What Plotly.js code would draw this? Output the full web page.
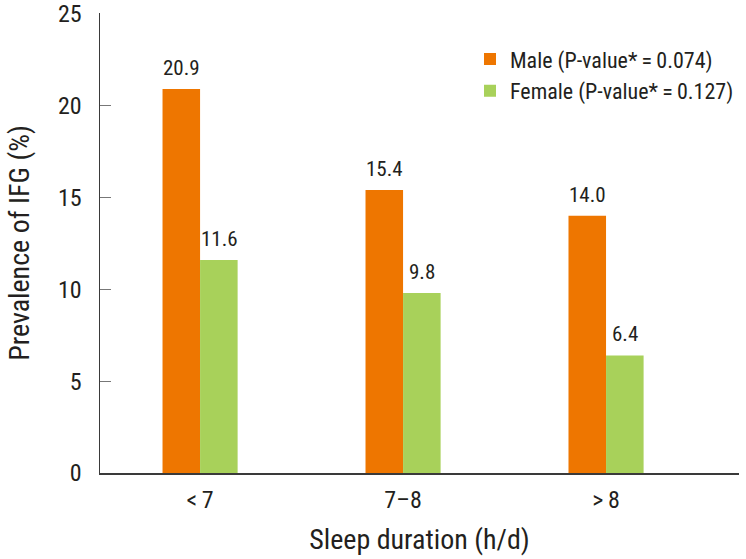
<!DOCTYPE html>
<html>
<head>
<meta charset="utf-8">
<script src="https://cdn.plot.ly/plotly-3.0.1.min.js"></script>
<style>html,body{margin:0;padding:0;background:#fff;}#chart{width:746px;height:559px;}</style>
</head>
<body>
<div id="chart"></div>
<script>
const categories = ['<7', '7\u20138', '>8'];
const tickLabels = ['<\u20097', '7\u20138', '>\u20098'];
const maleValues = [20.9, 15.4, 14.0];
const femaleValues = [11.6, 9.8, 6.4];
const maleName = 'Male (P-value*\u2009=\u20090.074)';
const femaleName = 'Female (P-value*\u2009=\u20090.127)';
const yTicks = [0, 5, 10, 15, 20, 25];

const FONT = '"Liberation Sans Narrow", "Roboto Condensed", "Arial Narrow", "Liberation Sans", sans-serif';
const ORANGE = '#EE7600';
const GREEN = '#A8D15A';
const TXT = '#231F20';

const traces = [
  {type: 'bar', name: maleName, x: categories, y: maleValues, marker: {color: ORANGE}, hoverinfo: 'y'},
  {type: 'bar', name: femaleName, x: categories, y: femaleValues, marker: {color: GREEN}, hoverinfo: 'y'}
];

const annotations = [];
categories.forEach((c, i) => {
  annotations.push({x: c, y: maleValues[i], text: maleValues[i].toFixed(1), showarrow: false,
    xanchor: 'center', yanchor: 'bottom', xshift: -19, yshift: 7, font: {family: FONT, size: 21, color: TXT}});
  annotations.push({x: c, y: femaleValues[i], text: femaleValues[i].toFixed(1), showarrow: false,
    xanchor: 'center', yanchor: 'bottom', xshift: 19, yshift: 7, font: {family: FONT, size: 21, color: TXT}});
});

const layout = {
  width: 746, height: 559,
  margin: {l: 100, r: 7, t: 13, b: 86},
  paper_bgcolor: '#fff', plot_bgcolor: '#fff',
  font: {family: FONT, color: TXT, size: 20},
  barmode: 'group', bargap: 0.63, bargroupgap: 0,
  showlegend: true,
  legend: {x: 1, y: 0.945, xanchor: 'right', yanchor: 'top', bgcolor: 'rgba(0,0,0,0)',
    font: {family: FONT, size: 22, color: TXT}, tracegroupgap: 0, itemwidth: 30},
  xaxis: {
    type: 'category', range: [-0.493, 2.655],
    tickvals: categories, ticktext: tickLabels,
    showline: true, linecolor: '#3a3a3a', linewidth: 1.5,
    ticks: '', showgrid: false, zeroline: false,
    tickfont: {family: FONT, size: 24, color: TXT},
    ticklabelstandoff: 5,
    title: {text: 'Sleep duration (h/d)', font: {family: FONT, size: 28, color: TXT}, standoff: 16}
  },
  yaxis: {
    range: [0, 25.04], tickvals: yTicks,
    showline: true, linecolor: '#3a3a3a', linewidth: 1.5,
    ticks: 'inside', ticklen: 11, tickcolor: '#777', tickwidth: 1.2,
    showgrid: false, zeroline: false,
    tickfont: {family: FONT, size: 24, color: TXT},
    ticklabelstandoff: 12, ticklabeloverflow: 'allow',
    title: {text: 'Prevalence of IFG (%)', font: {family: FONT, size: 28, color: TXT}, standoff: 20}
  },
  annotations: annotations
};

Plotly.newPlot('chart', traces, layout, {displayModeBar: false, staticPlot: true});
</script>
</body>
</html>
